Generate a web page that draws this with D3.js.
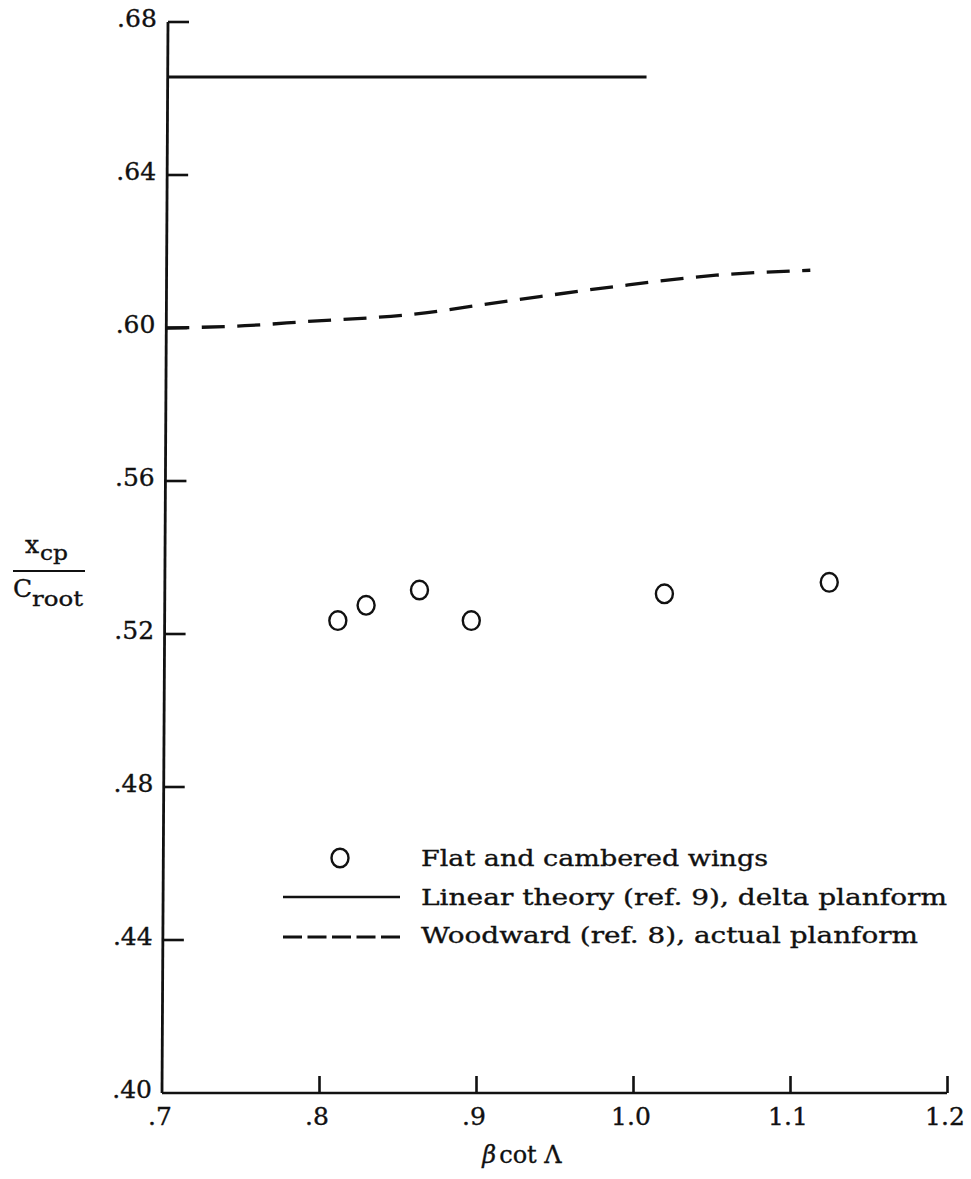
<!DOCTYPE html>
<html><head><meta charset="utf-8">
<script src="https://cdn.jsdelivr.net/npm/d3@7"></script>
<style>
html,body{margin:0;padding:0;background:#fff;}
svg text{font-family:"DejaVu Serif","Liberation Serif",serif;fill:#111;stroke:#111;stroke-width:0.35px;}
</style></head>
<body><svg id="c" width="971" height="1179"></svg>
<script>
// Data
const xTicks = [0.7, 0.8, 0.9, 1.0, 1.1, 1.2];
const xTickLabels = [".7", ".8", ".9", "1.0", "1.1", "1.2"];
const yTicks = [0.40, 0.44, 0.48, 0.52, 0.56, 0.60, 0.64, 0.68];
const yTickLabels = [".40", ".44", ".48", ".52", ".56", ".60", ".64", ".68"];
const pointX = [0.812, 0.830, 0.864, 0.897, 1.020, 1.125];
const pointY = [0.5235, 0.5275, 0.5315, 0.5235, 0.5305, 0.5335];
const linearX = [0.70, 1.005];
const linearY = [0.6656, 0.6656];
const woodX = [0.700, 0.750, 0.790, 0.855, 0.920, 0.985, 1.050, 1.110];
const woodY = [0.6000, 0.6006, 0.6017, 0.6035, 0.6072, 0.6108, 0.6138, 0.6151];
const legendLabels = ["Flat and cambered wings", "Linear theory (ref. 9), delta planform", "Woodward (ref. 8), actual planform"];

const svg = d3.select("#c");
const x = d3.scaleLinear().domain([0.7, 1.2]).range([162, 947]);
const y = d3.scaleLinear().domain([0.40, 0.68]).range([1093, 22]);
const ink = "#111";
// slight lean of the scanned y-axis (bottom x=162, top x=168)
const lean = v => (v - 0.40) / 0.28 * 6;

// x axis
const xAxis = d3.axisBottom(x).tickValues(xTicks.slice(1)).tickSize(-17).tickFormat("");
const gx = svg.append("g").attr("transform", `translate(0,${y(0.40)})`).call(xAxis);
gx.select(".domain").attr("d", `M${x(0.7)},0H${x(1.2)}`).attr("stroke", ink).attr("stroke-width", 2.6);
gx.selectAll(".tick line").attr("stroke", ink).attr("stroke-width", 2.6);

// y axis
const yAxis = d3.axisLeft(y).tickValues(yTicks.slice(1)).tickSize(-21).tickFormat("");
const gy = svg.append("g").attr("transform", `translate(${x(0.7)},0)`).call(yAxis);
gy.select(".domain").attr("d", `M0,${y(0.40)}L${lean(0.68)},${y(0.68)}`).attr("stroke", ink).attr("stroke-width", 2.8);
gy.selectAll(".tick").attr("transform", d => `translate(${lean(d)},${y(d)})`);
gy.selectAll(".tick line").attr("stroke", ink).attr("stroke-width", 2.6);

// tick labels
svg.append("g").selectAll("text").data(xTicks).join("text")
  .attr("x", d => x(d) - 2).attr("y", y(0.40) + 32)
  .attr("text-anchor", "middle").attr("font-size", 25)
  .text((d, i) => xTickLabels[i]);
svg.append("g").selectAll("text").data(yTicks).join("text")
  .attr("x", d => 152 + lean(d) * 0.8).attr("y", d => y(d) + 5)
  .attr("text-anchor", "end").attr("font-size", 25)
  .text((d, i) => yTickLabels[i]);

// axis titles
const xt = svg.append("text").attr("x", 522).attr("y", 1163).attr("text-anchor", "middle").attr("font-size", 24);
xt.append("tspan").attr("font-style", "italic").text("β");
xt.append("tspan").text("cot Λ").attr("dx", 3);

const yl = svg.append("g");
yl.append("text").attr("x", 25).attr("y", 553).attr("font-size", 25).text("x");
yl.append("text").attr("x", 40).attr("y", 560).attr("font-size", 21).attr("textLength", 28).attr("lengthAdjust", "spacingAndGlyphs").text("cp");
yl.append("line").attr("x1", 13).attr("x2", 85).attr("y1", 571).attr("y2", 571).attr("stroke", ink).attr("stroke-width", 2.2);
yl.append("text").attr("x", 13).attr("y", 597).attr("font-size", 25).text("C");
yl.append("text").attr("x", 32).attr("y", 606).attr("font-size", 21).attr("textLength", 51).attr("lengthAdjust", "spacingAndGlyphs").text("root");

// series
const line = d3.line().x(d => x(d[0]) + lean(d[1])).y(d => y(d[1]));
svg.append("path").datum(d3.zip(linearX, linearY)).attr("d", line)
  .attr("fill", "none").attr("stroke", ink).attr("stroke-width", 3);
svg.append("path").datum(d3.zip(woodX, woodY)).attr("d", line.curve(d3.curveMonotoneX))
  .attr("fill", "none").attr("stroke", ink).attr("stroke-width", 3.3).attr("stroke-dasharray", "23,12.5");

svg.append("g").selectAll("ellipse").data(d3.zip(pointX, pointY)).join("ellipse")
  .attr("cx", d => x(d[0])).attr("cy", d => y(d[1])).attr("rx", 8.5).attr("ry", 9.3)
  .attr("fill", "none").attr("stroke", ink).attr("stroke-width", 2.4);

// legend
const lg = svg.append("g");
const rowY = [858, 897, 937];
lg.append("ellipse").attr("cx", 340).attr("cy", rowY[0]).attr("rx", 8.5).attr("ry", 9.3).attr("fill", "none").attr("stroke", ink).attr("stroke-width", 2.4);
lg.append("line").attr("x1", 283).attr("x2", 400).attr("y1", rowY[1]).attr("y2", rowY[1]).attr("stroke", ink).attr("stroke-width", 2.6);
lg.append("line").attr("x1", 283).attr("x2", 400).attr("y1", rowY[2]).attr("y2", rowY[2]).attr("stroke", ink).attr("stroke-width", 3.2).attr("stroke-dasharray", "19,5.5");
const ends = [768, 947, 918];
lg.selectAll("text").data(legendLabels).join("text")
  .attr("x", 421).attr("y", (d, i) => [866, 905, 943][i]).attr("font-size", 23)
  .attr("textLength", (d, i) => ends[i] - 421).attr("lengthAdjust", "spacingAndGlyphs")
  .text(d => d);
</script></body></html>
